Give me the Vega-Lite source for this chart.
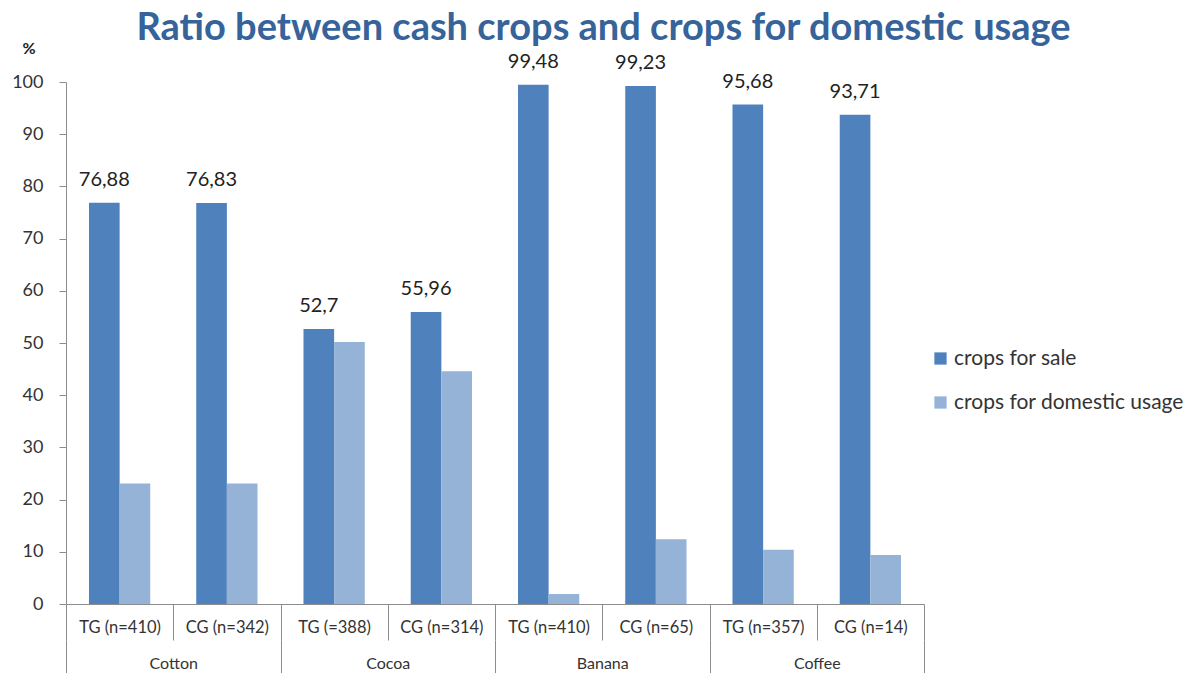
{
  "$schema": "https://vega.github.io/schema/vega-lite/v6.json",
  "width": 858,
  "height": 522,
  "autosize": {"type": "none"},
  "padding": {"left": 66, "top": 82, "right": 270, "bottom": 69},
  "background": "white",
  "config": {
    "view": {"stroke": null},
    "font": "Lato",
    "locale": {"number": {"decimal": ",", "thousands": ".", "grouping": [3], "currency": ["", " €"]}}
  },
  "data": {
    "values": [
      {"crop": "Cotton", "key": "Cotton|TG (n=410)", "series": "crops for sale", "value": 76.88},
      {"crop": "Cotton", "key": "Cotton|TG (n=410)", "series": "crops for domestic usage", "value": 23.1},
      {"crop": "Cotton", "key": "Cotton|CG (n=342)", "series": "crops for sale", "value": 76.83},
      {"crop": "Cotton", "key": "Cotton|CG (n=342)", "series": "crops for domestic usage", "value": 23.1},
      {"crop": "Cocoa", "key": "Cocoa|TG (=388)", "series": "crops for sale", "value": 52.7},
      {"crop": "Cocoa", "key": "Cocoa|TG (=388)", "series": "crops for domestic usage", "value": 50.2},
      {"crop": "Cocoa", "key": "Cocoa|CG (n=314)", "series": "crops for sale", "value": 55.96},
      {"crop": "Cocoa", "key": "Cocoa|CG (n=314)", "series": "crops for domestic usage", "value": 44.6},
      {"crop": "Banana", "key": "Banana|TG (n=410)", "series": "crops for sale", "value": 99.48},
      {"crop": "Banana", "key": "Banana|TG (n=410)", "series": "crops for domestic usage", "value": 1.9},
      {"crop": "Banana", "key": "Banana|CG (n=65)", "series": "crops for sale", "value": 99.23},
      {"crop": "Banana", "key": "Banana|CG (n=65)", "series": "crops for domestic usage", "value": 12.4},
      {"crop": "Coffee", "key": "Coffee|TG (n=357)", "series": "crops for sale", "value": 95.68},
      {"crop": "Coffee", "key": "Coffee|TG (n=357)", "series": "crops for domestic usage", "value": 10.4},
      {"crop": "Coffee", "key": "Coffee|CG (n=14)", "series": "crops for sale", "value": 93.71},
      {"crop": "Coffee", "key": "Coffee|CG (n=14)", "series": "crops for domestic usage", "value": 9.4}
    ]
  },
  "layer": [
    {
      "mark": {"type": "bar", "opacity": 0},
      "encoding": {
        "x": {
          "field": "crop", "type": "nominal", "sort": null,
          "scale": {"paddingInner": 0, "paddingOuter": 0},
          "axis": {
            "title": null, "orient": "bottom", "offset": 36, "domain": false,
            "tickBand": "extent", "tickSize": 33, "tickColor": "#8C8C8C", "tickWidth": 1,
            "labelAngle": 0, "labelFontSize": 16, "labelColor": "#333333", "labelPadding": -18,
            "labelBaseline": "top", "labelFont": "Lato"
          }
        },
        "y": {"field": "value", "type": "quantitative"}
      }
    },
    {
      "mark": {"type": "bar", "opacity": 0},
      "encoding": {
        "x": {
          "field": "crop", "type": "nominal", "sort": null,
          "scale": {"paddingInner": 0, "paddingOuter": 0},
          "axis": {
            "orient": "top", "domain": false, "ticks": false, "labels": false,
            "title": "Ratio between cash crops and crops for domestic usage",
            "titleFont": "Lato", "titleFontSize": 38, "titleFontWeight": "bold", "titleColor": "#36639A",
            "titleX": 537, "titleY": -43, "titleAlign": "center", "titleBaseline": "alphabetic",
            "titleAnchor": null, "titleLimit": 1200
          }
        },
        "y": {"field": "value", "type": "quantitative"}
      }
    },
    {
      "layer": [
        {
          "mark": {"type": "bar"},
          "encoding": {
            "x": {
              "field": "key", "type": "nominal", "sort": null,
              "scale": {"paddingInner": 0, "paddingOuter": 0},
              "axis": {
                "title": null, "orient": "bottom",
                "labelExpr": "split(datum.label, '|')[1]",
                "tickBand": "extent", "tickSize": 36, "tickColor": "#8C8C8C",
                "domainColor": "#8C8C8C", "labelAngle": 0, "labelFontSize": 16.5,
                "labelColor": "#333333", "labelPadding": -21, "labelBaseline": "top"
              }
            },
            "xOffset": {
              "field": "series", "type": "nominal",
              "scale": {"domain": ["crops for sale", "crops for domestic usage"], "paddingInner": 0, "paddingOuter": 0.75}
            },
            "y": {
              "field": "value", "type": "quantitative",
              "scale": {"domain": [0, 100], "nice": false},
              "axis": {
                "title": "%", "titleAngle": 0, "titleX": -44, "titleY": -29, "titleAlign": "left",
                "titleBaseline": "alphabetic", "titleFontSize": 16, "titleFontWeight": "bold", "titleColor": "#222222",
                "values": [0, 10, 20, 30, 40, 50, 60, 70, 80, 90, 100],
                "grid": false, "domainColor": "#8C8C8C", "tickColor": "#8C8C8C", "tickSize": 7,
                "labelFontSize": 18, "labelColor": "#333333", "labelPadding": 16
              }
            },
            "color": {
              "field": "series", "type": "nominal",
              "scale": {"domain": ["crops for sale", "crops for domestic usage"], "range": ["#4F81BD", "#95B3D7"]},
              "legend": {
                "title": null, "orient": "none", "legendX": 864, "legendY": 266,
                "symbolType": "square", "symbolSize": 150, "symbolStrokeWidth": 0,
                "labelFontSize": 21, "labelColor": "#333333", "rowPadding": 22, "labelOffset": 3,
                "labelLimit": 320
              }
            }
          }
        },
        {
          "transform": [{"filter": "datum.series == 'crops for sale'"}],
          "mark": {"type": "text", "baseline": "alphabetic", "dy": -17, "fontSize": 20, "color": "#222222"},
          "encoding": {
            "x": {"field": "key", "type": "nominal", "sort": null},
            "xOffset": {"field": "series", "type": "nominal"},
            "y": {"field": "value", "type": "quantitative"},
            "text": {"field": "value", "type": "quantitative"}
          }
        }
      ]
    }
  ],
  "resolve": {"scale": {"x": "independent"}}
}
